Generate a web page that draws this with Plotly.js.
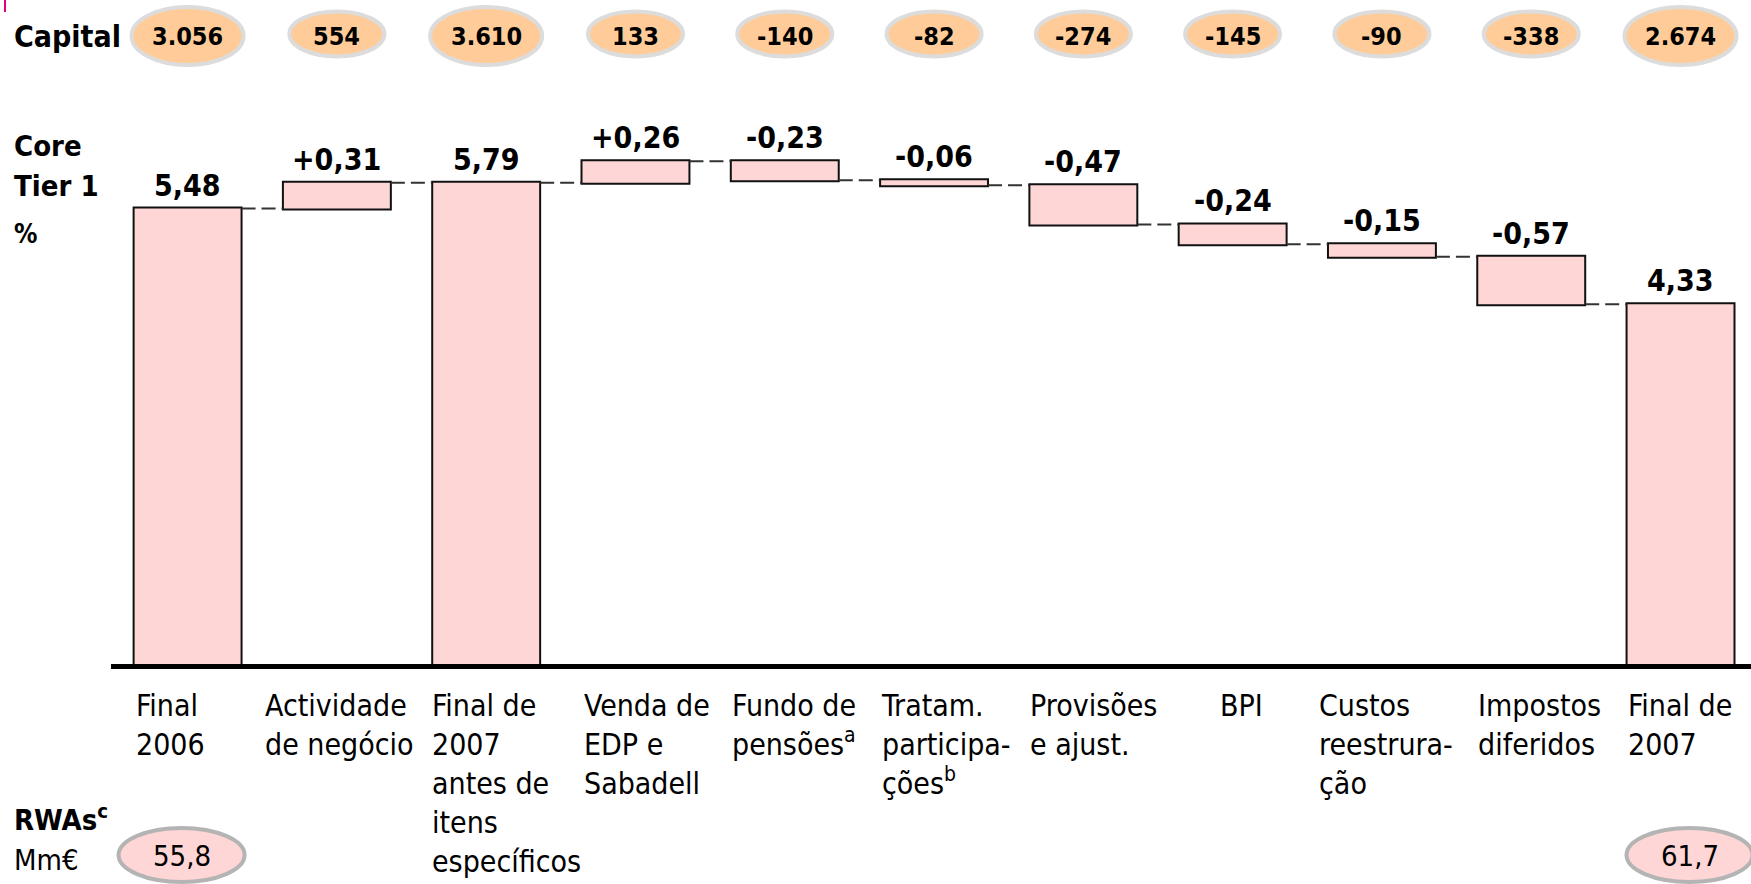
<!DOCTYPE html>
<html>
<head>
<meta charset="utf-8">
<script src="https://cdn.plot.ly/plotly-3.0.1.min.js"></script>
<style>
html, body { margin: 0; padding: 0; background: #ffffff; }
#chart { width: 1751px; height: 884px; }
</style>
</head>
<body>
<div id="chart"></div>
<script>
// ---------------- DATA ----------------
const categories = [
  "Final<br>2006",
  "Actividade<br>de negócio",
  "Final de<br>2007<br>antes de<br>itens<br>específicos",
  "Venda de<br>EDP e<br>Sabadell",
  "Fundo de<br>pensões<sup>a</sup>",
  "Tratam.<br>participa-<br>ções<sup>b</sup>",
  "Provisões<br>e ajust.",
  "BPI",
  "Custos<br>reestrura-<br>ção",
  "Impostos<br>diferidos",
  "Final de<br>2007"
];
const measures = ["absolute", "relative", "total", "relative", "relative", "relative",
                  "relative", "relative", "relative", "relative", "total"];
const coreTier1 = [5.48, 0.31, 5.79, 0.26, -0.23, -0.06, -0.47, -0.24, -0.15, -0.57, 4.33];
const capital = [3056, 554, 3610, 133, -140, -82, -274, -145, -90, -338, 2674];
const rwaIndex = [0, 10];
const rwaValues = [55.8, 61.7];

// ---------------- LAYOUT HELPERS ----------------
const W = 1751, H = 884;
const M = { l: 111, r: 0, t: 100, b: 220 };
const plotH = H - M.t - M.b, plotW = W - M.l - M.r;
const yp = p => (H - M.b - p) / plotH;      // pixel row -> paper y
const xp = p => (p - M.l) / plotW;          // pixel col -> paper x
const FONT = "'DejaVu Sans Condensed', 'DejaVu Sans', sans-serif";
const barGap = 0.277;
const barW = 1 - barGap;
const pink = '#FFD6D6';

const fmtDec = (v, d) => v.toFixed(d).replace('.', ',');
const fmtThou = v => {
  const s = Math.abs(v).toString().replace(/\B(?=(\d{3})+(?!\d))/g, '.');
  return (v < 0 ? '-' : '') + s;
};

const idx = categories.map((_, i) => i);

// running totals for label placement
let run = 0;
const tops = [], labels = [];
coreTier1.forEach((v, i) => {
  const m = measures[i];
  if (m === 'absolute') { run = v; tops.push(v); labels.push(fmtDec(v, 2)); }
  else if (m === 'total') { tops.push(run); labels.push(fmtDec(run, 2)); }
  else {
    const prev = run; run = run + v;
    tops.push(Math.max(prev, run));
    labels.push((v >= 0 ? '+' : '-') + fmtDec(Math.abs(v), 2));
  }
});

const barStyle = { marker: { color: pink, line: { color: '#111', width: 2 } } };

const trace = {
  type: 'waterfall',
  x: idx,
  y: coreTier1,
  measure: measures,
  increasing: barStyle,
  decreasing: barStyle,
  totals: barStyle,
  connector: { mode: 'between', line: { color: '#333', width: 2, dash: '14px,6px' } },
  textinfo: 'none',
  hoverinfo: 'skip',
  cliponaxis: true
};

const annotations = [];
const shapes = [];

// value labels above bars
labels.forEach((t, i) => {
  annotations.push({
    xref: 'x', yref: 'y', x: i, y: tops[i], yanchor: 'bottom', yshift: 4,
    text: '<b>' + t + '</b>', showarrow: false,
    font: { family: FONT, size: 30, color: '#000' }
  });
});

// category labels below the axis
const labelShift = [0, -20, -2, 0, -1, -1, -1, 39, -11, -1, -1];
categories.forEach((c, i) => {
  annotations.push({
    xref: 'x', yref: 'paper', x: i - barW / 2, xanchor: 'left', xshift: labelShift[i],
    y: yp(686), yanchor: 'top', align: 'left',
    text: c, showarrow: false,
    font: { family: FONT, size: 30, color: '#000' }
  });
});

// capital ellipses
capital.forEach((v, i) => {
  const big = measures[i] !== 'relative';
  const w = big ? 112 : 95, h = big ? 58 : 45;
  const cy = big ? 36 : 34;
  shapes.push({
    type: 'circle', xref: 'x', yref: 'paper',
    xsizemode: 'pixel', ysizemode: 'pixel',
    xanchor: i, yanchor: yp(cy),
    x0: -w / 2, x1: w / 2, y0: -h / 2, y1: h / 2,
    fillcolor: '#FFCC99', line: { color: '#DCDCDC', width: 4 }, layer: 'above'
  });
  annotations.push({
    xref: 'x', yref: 'paper', x: i, y: yp(36), yanchor: 'middle',
    text: '<b>' + fmtThou(v) + '</b>', showarrow: false,
    font: { family: FONT, size: 25, color: '#000' }
  });
});

// RWA ellipses
const rwaShift = [-6, 9];
rwaIndex.forEach((i, k) => {
  shapes.push({
    type: 'circle', xref: 'x', yref: 'paper',
    xsizemode: 'pixel', ysizemode: 'pixel',
    xanchor: i, yanchor: yp(855),
    x0: -63 + rwaShift[k], x1: 63 + rwaShift[k], y0: -27, y1: 27,
    fillcolor: pink, line: { color: '#B4B4B4', width: 4 }, layer: 'above'
  });
  annotations.push({
    xref: 'x', yref: 'paper', x: i, xshift: rwaShift[k], y: yp(856), yanchor: 'middle',
    text: fmtDec(rwaValues[k], 1), showarrow: false,
    font: { family: FONT, size: 29, color: '#000' }
  });
});

// left side labels
const side = [
  { t: '<b>Capital</b>', c: 36, s: 30 },
  { t: '<b>Core</b>', c: 146, s: 29 },
  { t: '<b>Tier 1</b>', c: 186, s: 29 },
  { t: '<b>%</b>', c: 234, s: 26 },
  { t: '<b>RWAs<sup>c</sup></b>', c: 818, s: 29 },
  { t: 'Mm€', c: 860, s: 29 }
];
side.forEach(o => {
  annotations.push({
    xref: 'paper', yref: 'paper', x: xp(12), xanchor: 'left', y: yp(o.c), yanchor: 'middle',
    text: o.t, showarrow: false, font: { family: FONT, size: o.s, color: '#000' }
  });
});

// small magenta tick at the top-left corner
shapes.push({
  type: 'line', xref: 'paper', yref: 'paper',
  x0: xp(5), x1: xp(5), y0: yp(0), y1: yp(12),
  line: { color: '#E6007E', width: 2 }
});

const layout = {
  width: W, height: H,
  margin: M,
  paper_bgcolor: '#ffffff', plot_bgcolor: '#ffffff',
  showlegend: false,
  waterfallgap: barGap,
  font: { family: FONT, color: '#000' },
  xaxis: {
    range: [-0.513, 10.472], showticklabels: false, showgrid: false, zeroline: false,
    showline: true, linecolor: '#000', linewidth: 5, ticks: '', fixedrange: true
  },
  yaxis: {
    range: [0, (H - M.b - M.t) / 83.1], visible: false, fixedrange: true
  },
  shapes: shapes,
  annotations: annotations
};

Plotly.newPlot('chart', [trace], layout, { staticPlot: true, displayModeBar: false });
</script>
</body>
</html>
